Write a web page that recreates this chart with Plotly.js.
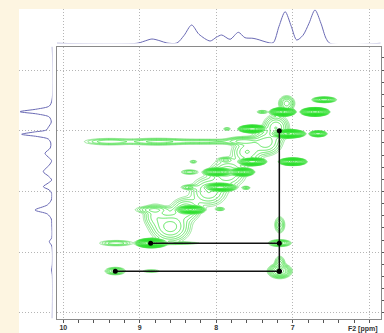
<!DOCTYPE html>
<html><head><meta charset="utf-8">
<script src="https://cdn.plot.ly/plotly-3.0.1.min.js"></script>
<style>html,body{margin:0;padding:0;background:#fdf5e1;}#chart{width:384px;height:333px;}</style>
</head><body><div id="chart"></div>
<script>
// ---- 2D peak table (F2 ppm, F1 ppm, relative amplitude, widths in ppm) ----
const peakF2  = [6.59, 6.71, 7.13, 7.40, 7.53, 7.06, 6.67, 7.53, 7.00, 8.30, 7.88, 7.97, 7.67, 8.35, 7.95, 7.61, 8.34, 8.83, 7.95, 8.85, 9.31, 8.45, 7.17, 9.32, 8.85, 7.17, 7.17, 7.17, 9.40, 8.78, 8.15, 7.65, 7.08, 7.22, 7.35, 7.60, 7.85, 8.10, 8.40, 8.60, 8.80, 7.86, 8.35];
const peakF1  = [6.49, 6.69, 6.69, 6.69, 6.97, 7.05, 7.05, 7.51, 7.51, 7.51, 7.48, 7.68, 7.68, 7.68, 7.93, 7.94, 8.30, 8.30, 8.29, 8.85, 8.85, 8.85, 8.85, 9.31, 9.31, 9.31, 9.18, 8.55, 7.18, 7.18, 7.18, 7.17, 6.55, 6.95, 7.20, 7.35, 7.70, 8.00, 8.30, 8.58, 8.40, 6.97, 7.93];
const peakAmp = [40, 1000, 800, 4, 500, 800, 60, 500, 400, 3, 5, 400, 400, 5, 500, 4, 600, 6, 4, 800, 5, 3, 15, 12, 3, 25, 6, 6, 5, 6, 4, 8, 10, 12, 10, 8, 8, 8, 8, 15, 6, 3, 5];
const peakWidthF2 = [0.06, 0.053, 0.048, 0.04, 0.054, 0.064, 0.042, 0.054, 0.055, 0.03, 0.05, 0.06, 0.05, 0.06, 0.062, 0.03, 0.055, 0.12, 0.035, 0.058, 0.12, 0.15, 0.065, 0.06, 0.07, 0.065, 0.035, 0.035, 0.18, 0.22, 0.3, 0.12, 0.05, 0.08, 0.1, 0.1, 0.12, 0.12, 0.1, 0.12, 0.08, 0.03, 0.06];
const peakWidthF1 = [0.018, 0.02, 0.02, 0.015, 0.019, 0.02, 0.018, 0.019, 0.019, 0.015, 0.02, 0.02, 0.02, 0.02, 0.02, 0.015, 0.02, 0.03, 0.015, 0.022, 0.025, 0.012, 0.025, 0.028, 0.015, 0.05, 0.06, 0.07, 0.03, 0.03, 0.025, 0.035, 0.06, 0.1, 0.1, 0.1, 0.12, 0.12, 0.1, 0.12, 0.1, 0.015, 0.02];

// ---- 1D projections ----
const topProjF2  = [10.082, 9.037, 8.945, 8.841, 8.736, 8.645, 8.514, 8.42, 8.322, 8.226, 8.08, 8.0, 7.929, 7.82, 7.712, 7.625, 7.52, 7.44, 7.363, 7.258, 7.18, 7.10, 7.02, 6.949, 6.867, 6.788, 6.71, 6.632, 6.566, 6.514, 5.851];
const topProjInt = [0, 0, 2, 4.3, 2.5, 0.3, 0.3, 8, 18.3, 9, 2.3, 6, 8.3, 4, 11, 5.6, 5, 3.5, 1.6, 0.5, 17, 31.6, 17, 3.3, 8, 20, 33.3, 20, 5, 0, 0];
const leftProjF1  = [5.616, 6.494, 6.593, 6.642, 6.686, 6.724, 6.774, 6.856, 6.943, 6.988, 7.02, 7.058, 7.095, 7.136, 7.202, 7.284, 7.371, 7.449, 7.493, 7.564, 7.674, 7.745, 7.811, 7.86, 7.921, 7.975, 8.03, 8.14, 8.222, 8.305, 8.37, 8.453, 8.55, 8.76, 8.826, 8.897, 9.21, 9.292, 9.37, 10.087];
const leftProjInt = [0, 0.3, 3, 15, 32.3, 15, 3, 1, 4, 6, 18, 30.6, 15, 4, 1.5, 2, 7.3, 3, 0.6, 3, 9, 4, 0.6, 4, 9, 3, 0.6, 1, 5, 17.3, 5, 1, 0.5, 0.5, 3, 0.5, 0, 0.7, 0, 0];

// ---- correlation walk ----
const crossF2 = [7.176, 7.176, null, 8.858, 7.176, null, 9.32, 7.176];
const crossF1 = [6.999, 9.314, null, 8.853, 8.853, null, 9.314, 9.314];

const tickVals = [10, 9, 8, 7, 6];
const tickLabels = ['10', '9', '8', '7', ''];
const axisLabel = 'F2 [ppm]';

// build contour grid from the peak table
const xs = [], ys = [];
for (let v = 5.85; v <= 10.09; v += 0.012) xs.push(+v.toFixed(4));
for (let v = 5.60; v <= 10.11; v += 0.008) ys.push(+v.toFixed(4));
const Z = ys.map(y => {
  const row = new Array(xs.length);
  for (let i = 0; i < xs.length; i++) {
    const x = xs[i];
    let s = 0;
    for (let k = 0; k < peakF2.length; k++) {
      const dx = (x - peakF2[k]) / peakWidthF2[k];
      const dy = (y - peakF1[k]) / peakWidthF1[k];
      const d = dx * dx + dy * dy;
      if (d < 40) s += peakAmp[k] * Math.exp(-0.5 * d);
    }
    row[i] = Math.log10(s + 0.01);
  }
  return row;
});

const tf = {family: 'Liberation Sans, Arial, sans-serif', size: 7, color: '#333', weight: 'bold'};
const projColor = '#6a6ab4';

const traces = [
  {type: 'contour', x: xs, y: ys, z: Z, xaxis: 'x', yaxis: 'y', zmin: 0, zmax: 3,
   autocontour: false, contours: {coloring: 'lines', start: 0, end: 3.2, size: 0.18},
   line: {width: 0.8, smoothing: 0.6},
   colorscale: [[0, '#80e080'], [0.15, '#3ee03e'], [1, '#1ee01e']],
   showscale: false, hoverinfo: 'skip'},
  {type: 'scatter', mode: 'lines', x: topProjF2, y: topProjInt, xaxis: 'x', yaxis: 'y2',
   line: {color: projColor, width: 1, shape: 'spline', smoothing: 0.8}, hoverinfo: 'skip'},
  {type: 'scatter', mode: 'lines', x: leftProjInt, y: leftProjF1, xaxis: 'x2', yaxis: 'y',
   line: {color: projColor, width: 1, shape: 'spline', smoothing: 0.8}, hoverinfo: 'skip'},
  {type: 'scatter', mode: 'lines+markers', x: crossF2, y: crossF1, xaxis: 'x', yaxis: 'y',
   line: {color: '#111', width: 1.5}, marker: {color: '#000', size: 5}, connectgaps: false, hoverinfo: 'skip'}
];

const layout = {
  width: 384, height: 333, margin: {l: 0, r: 0, t: 0, b: 0},
  paper_bgcolor: '#fdf5e1', plot_bgcolor: 'rgba(0,0,0,0)', showlegend: false,
  shapes: [{type: 'rect', xref: 'paper', yref: 'paper', x0: 19 / 384, x1: 1.01, y0: -0.02, y1: 1 - 9 / 333,
            fillcolor: '#ffffff', line: {width: 0}, layer: 'below'}],
  xaxis: {domain: [57 / 384, 380.7 / 384], range: [10.082, 5.851], anchor: 'y',
          showline: true, mirror: true, linecolor: '#8a8a8a', linewidth: 1,
          showgrid: true, gridcolor: '#b5b5b5', griddash: '1px,2px', gridwidth: 1, zeroline: false,
          tickmode: 'array', tickvals: tickVals, ticktext: tickLabels,
          ticks: 'outside', ticklen: 3, tickcolor: '#555', tickfont: tf, ticklabelstandoff: -1,
          minor: {tick0: 0, dtick: 0.2, ticks: 'outside', ticklen: 3, tickcolor: '#555', showgrid: false}},
  yaxis: {domain: [1 - 319 / 333, 1 - 46.5 / 333], range: [10.099, 5.613], anchor: 'x', side: 'right',
          showline: true, mirror: true, linecolor: '#8a8a8a', linewidth: 1,
          showgrid: true, gridcolor: '#b5b5b5', griddash: '1px,2px', gridwidth: 1, zeroline: false,
          tick0: 0, dtick: 1, ticks: 'outside', ticklen: 3, tickcolor: '#555', showticklabels: false,
          minor: {tick0: 0, dtick: 0.2, ticks: 'outside', ticklen: 3, tickcolor: '#555', showgrid: false}},
  yaxis2: {domain: [1 - 43.3 / 333, 1 - 9.3 / 333], range: [0, 34], anchor: 'x', visible: false},
  xaxis2: {domain: [19 / 384, 52.3 / 384], range: [33.3, 0], anchor: 'y', visible: false},
  annotations: [{text: axisLabel, xref: 'paper', yref: 'paper', x: 363 / 384, y: 1 - 329 / 333,
                 xanchor: 'center', yanchor: 'middle', showarrow: false, font: tf}]
};

Plotly.newPlot('chart', traces, layout, {staticPlot: true, displayModeBar: false});
</script></body></html>
